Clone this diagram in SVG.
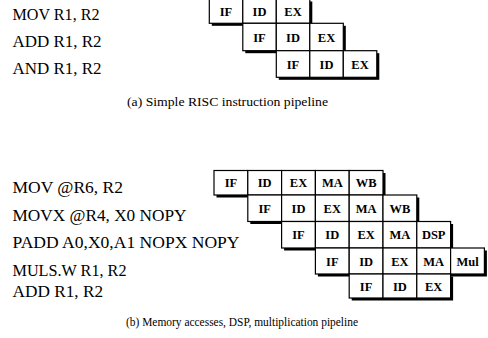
<svg xmlns="http://www.w3.org/2000/svg" width="488" height="338" viewBox="0 0 488 338">
<style>
.lbl{font-family:"Liberation Serif","Times New Roman",serif;font-size:17px;fill:#000}
.cap{font-family:"Liberation Serif","Times New Roman",serif;font-size:13.5px;fill:#000}
.cell{fill:#fff;stroke:#000;stroke-width:1.2}
.sh{fill:#000}
.ct{font-family:"Liberation Serif","Times New Roman",serif;font-size:12.5px;font-weight:bold;fill:#000;text-anchor:middle}
</style>
<rect width="488" height="338" fill="#fff"/>
<!-- Labels (a) -->
<g id="labels-a">
<text class="lbl" x="12.5" y="19.5" textLength="87" lengthAdjust="spacingAndGlyphs">MOV R1, R2</text>
<text class="lbl" x="12.5" y="46.5" textLength="89" lengthAdjust="spacingAndGlyphs">ADD R1, R2</text>
<text class="lbl" x="12.5" y="74" textLength="89" lengthAdjust="spacingAndGlyphs">AND R1, R2</text>
</g>
<!-- Pipeline (a) -->
<g id="pipe-a-row1">
<rect class="sh" x="211.8" y="1.5" width="100.5" height="24.3"/>
<rect class="cell" x="209.3" y="-1" width="33.5" height="24.3"/>
<rect class="cell" x="242.8" y="-1" width="33.5" height="24.3"/>
<rect class="cell" x="276.3" y="-1" width="33.5" height="24.3"/>
<text class="ct" x="226" y="16">IF</text>
<text class="ct" x="259.5" y="16">ID</text>
<text class="ct" x="293" y="16">EX</text>
</g>
<g id="pipe-a-row2">
<rect class="sh" x="245.3" y="25.8" width="100.5" height="27.4"/>
<rect class="cell" x="242.8" y="23.3" width="33.5" height="27.4"/>
<rect class="cell" x="276.3" y="23.3" width="33.5" height="27.4"/>
<rect class="cell" x="309.8" y="23.3" width="33.5" height="27.4"/>
<text class="ct" x="259.5" y="41.5">IF</text>
<text class="ct" x="293" y="41.5">ID</text>
<text class="ct" x="326.5" y="41.5">EX</text>
</g>
<g id="pipe-a-row3">
<rect class="sh" x="278.8" y="53.2" width="100.5" height="26.6"/>
<rect class="cell" x="276.3" y="50.7" width="33.5" height="26.6"/>
<rect class="cell" x="309.8" y="50.7" width="33.5" height="26.6"/>
<rect class="cell" x="343.3" y="50.7" width="33.5" height="26.6"/>
<text class="ct" x="293" y="68.5">IF</text>
<text class="ct" x="326.5" y="68.5">ID</text>
<text class="ct" x="360" y="68.5">EX</text>
</g>
<text id="caption-a" class="cap" x="127" y="105.5" textLength="201" lengthAdjust="spacingAndGlyphs">(a) Simple RISC instruction pipeline</text>
<!-- Labels (b) -->
<g id="labels-b">
<text class="lbl" x="12.5" y="193" textLength="110.5" lengthAdjust="spacingAndGlyphs">MOV @R6, R2</text>
<text class="lbl" x="12.5" y="221" textLength="174" lengthAdjust="spacingAndGlyphs">MOVX @R4, X0 NOPY</text>
<text class="lbl" x="12.5" y="248" textLength="227" lengthAdjust="spacingAndGlyphs">PADD A0,X0,A1 NOPX NOPY</text>
<text class="lbl" x="12.5" y="276" textLength="114" lengthAdjust="spacingAndGlyphs">MULS.W R1, R2</text>
<text class="lbl" x="12.5" y="296.5" textLength="90.5" lengthAdjust="spacingAndGlyphs">ADD R1, R2</text>
</g>
<!-- Pipeline (b) -->
<g id="pipe-b-row1">
<rect class="sh" x="216.5" y="173" width="169" height="24.5"/>
<rect class="cell" x="214" y="170.5" width="33.8" height="24.5"/>
<rect class="cell" x="247.8" y="170.5" width="33.8" height="24.5"/>
<rect class="cell" x="281.6" y="170.5" width="33.8" height="24.5"/>
<rect class="cell" x="315.4" y="170.5" width="33.8" height="24.5"/>
<rect class="cell" x="349.2" y="170.5" width="33.8" height="24.5"/>
<text class="ct" x="230.9" y="187">IF</text>
<text class="ct" x="264.7" y="187">ID</text>
<text class="ct" x="298.5" y="187">EX</text>
<text class="ct" x="332.3" y="187">MA</text>
<text class="ct" x="366.1" y="187">WB</text>
</g>
<g id="pipe-b-row2">
<rect class="sh" x="250.3" y="197.5" width="169" height="26.5"/>
<rect class="cell" x="247.8" y="195" width="33.8" height="26.5"/>
<rect class="cell" x="281.6" y="195" width="33.8" height="26.5"/>
<rect class="cell" x="315.4" y="195" width="33.8" height="26.5"/>
<rect class="cell" x="349.2" y="195" width="33.8" height="26.5"/>
<rect class="cell" x="383" y="195" width="33.8" height="26.5"/>
<text class="ct" x="264.7" y="212.5">IF</text>
<text class="ct" x="298.5" y="212.5">ID</text>
<text class="ct" x="332.3" y="212.5">EX</text>
<text class="ct" x="366.1" y="212.5">MA</text>
<text class="ct" x="399.9" y="212.5">WB</text>
</g>
<g id="pipe-b-row3">
<rect class="sh" x="284.1" y="224" width="169" height="26.5"/>
<rect class="cell" x="281.6" y="221.5" width="33.8" height="26.5"/>
<rect class="cell" x="315.4" y="221.5" width="33.8" height="26.5"/>
<rect class="cell" x="349.2" y="221.5" width="33.8" height="26.5"/>
<rect class="cell" x="383" y="221.5" width="33.8" height="26.5"/>
<rect class="cell" x="416.8" y="221.5" width="33.8" height="26.5"/>
<text class="ct" x="298.5" y="239">IF</text>
<text class="ct" x="332.3" y="239">ID</text>
<text class="ct" x="366.1" y="239">EX</text>
<text class="ct" x="399.9" y="239">MA</text>
<text class="ct" x="433.7" y="239">DSP</text>
</g>
<g id="pipe-b-row4">
<rect class="sh" x="317.9" y="250.5" width="169" height="26"/>
<rect class="cell" x="315.4" y="248" width="33.8" height="26"/>
<rect class="cell" x="349.2" y="248" width="33.8" height="26"/>
<rect class="cell" x="383" y="248" width="33.8" height="26"/>
<rect class="cell" x="416.8" y="248" width="33.8" height="26"/>
<rect class="cell" x="450.6" y="248" width="33.8" height="26"/>
<text class="ct" x="332.3" y="265.5">IF</text>
<text class="ct" x="366.1" y="265.5">ID</text>
<text class="ct" x="399.9" y="265.5">EX</text>
<text class="ct" x="433.7" y="265.5">MA</text>
<text class="ct" x="467.5" y="265.5">Mul</text>
</g>
<g id="pipe-b-row5">
<rect class="sh" x="351.7" y="276.5" width="101.4" height="24"/>
<rect class="cell" x="349.2" y="274" width="33.8" height="24"/>
<rect class="cell" x="383" y="274" width="33.8" height="24"/>
<rect class="cell" x="416.8" y="274" width="33.8" height="24"/>
<text class="ct" x="366.1" y="290.5">IF</text>
<text class="ct" x="399.9" y="290.5">ID</text>
<text class="ct" x="433.7" y="290.5">EX</text>
</g>
<text id="caption-b" class="cap" x="126" y="326" textLength="232" lengthAdjust="spacingAndGlyphs">(b) Memory accesses, DSP, multiplication pipeline</text>
</svg>
